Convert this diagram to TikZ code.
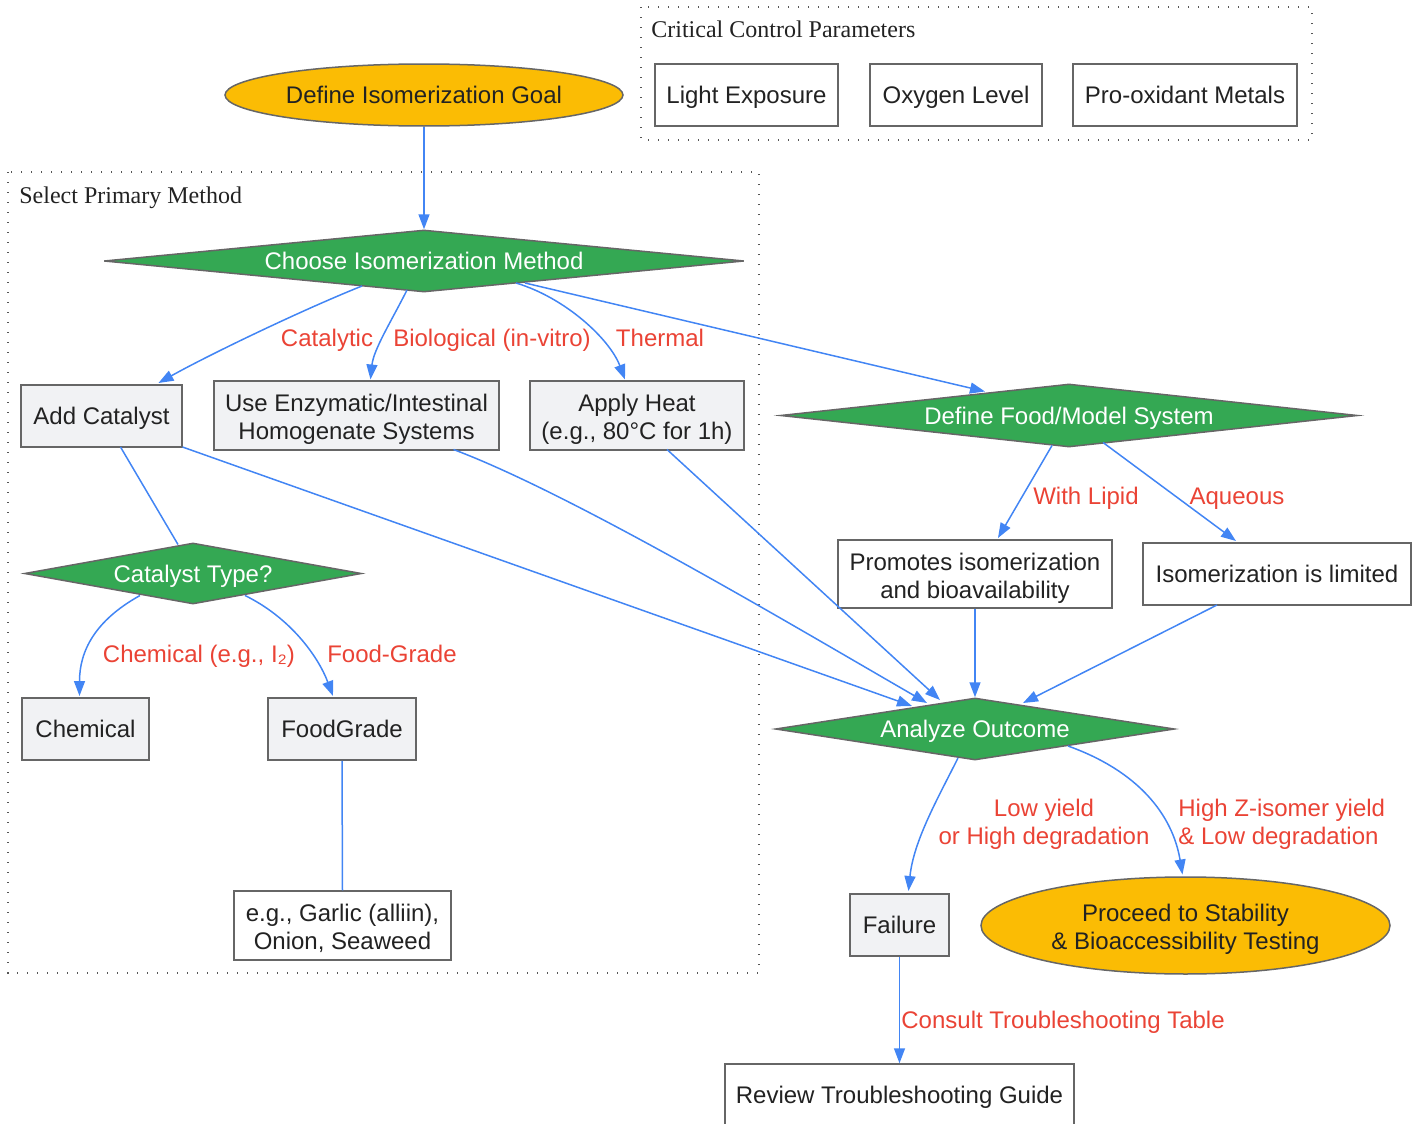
\documentclass[tikz,border=0pt]{standalone}
\usepackage{fontspec}
\setmainfont{Liberation Sans}
\newfontfamily\titlefont{Liberation Serif}
\usetikzlibrary{shapes.geometric,arrows.meta}
\definecolor{edgeblue}{RGB}{66,133,244}
\definecolor{labred}{RGB}{234,67,53}
\definecolor{dgreen}{RGB}{52,168,83}
\definecolor{gold}{RGB}{251,188,4}
\definecolor{boxgray}{RGB}{241,242,244}
\definecolor{bordergray}{RGB}{102,102,102}
\definecolor{txt}{RGB}{34,34,34}
\definecolor{clus}{RGB}{85,85,85}
\newcommand\sgl{\rule[-2.6pt]{0pt}{14pt}}
\newcommand\fst{\rule{0pt}{12.9pt}}
\newcommand\lst{\rule[-2.6pt]{0pt}{2.6pt}}
\begin{document}
\begin{tikzpicture}[x=0.5pt,y=-0.5pt,
  font=\fontsize{12}{14}\selectfont,
  base/.style={draw=bordergray,line width=0.75pt,text=txt,inner sep=0pt,align=center},
  graybox/.style={base,rectangle,fill=boxgray},
  whitebox/.style={base,rectangle,fill=white},
  goalell/.style={base,ellipse,fill=gold},
  decision/.style={base,diamond,fill=dgreen,text=white},
  edge/.style={draw=edgeblue,line width=0.75pt,-{Triangle[length=7.5pt,width=5.5pt]}},
  plainedge/.style={draw=edgeblue,line width=0.75pt},
  elabel/.style={text=labred,inner sep=0pt},
  cluster/.style={draw=clus,line width=0.7pt,dash pattern=on 0.7pt off 4.3pt},
  ctitle/.style={font=\titlefont\fontsize{12}{14}\selectfont,text=txt,inner sep=0pt,anchor=west}
]
\useasboundingbox (0,0) rectangle (1421,1124);

% clusters
\draw[cluster] (641,7) rectangle (1312,140);
\node[ctitle] (ccp) at (651,29) {\sgl Critical Control Parameters};
\draw[cluster] (8,172) rectangle (759,973);
\node[ctitle] (spm) at (19,195) {\sgl Select Primary Method};

% nodes
\node[goalell,minimum width=199pt,minimum height=31pt] (goal) at (424,95) {\sgl Define Isomerization Goal};
\node[whitebox,minimum width=91.5pt,minimum height=31pt] (light) at (746.5,95) {\sgl Light Exposure};
\node[whitebox,minimum width=86pt,minimum height=31pt] (oxy) at (956,95) {\sgl Oxygen Level};
\node[whitebox,minimum width=112pt,minimum height=31pt] (metal) at (1185,95) {\sgl Pro-oxidant Metals};

\node[decision,aspect=10,minimum width=320pt,minimum height=31pt] (choose) at (424,261) {\sgl Choose Isomerization Method};
\node[graybox,minimum width=80.5pt,minimum height=31pt] (add) at (101.5,416) {\sgl Add Catalyst};
\node[graybox,minimum width=142.5pt,minimum height=34.5pt] (use) at (356.5,415.5) {\fst Use Enzymatic/Intestinal\\Homogenate Systems\lst};
\node[graybox,minimum width=107pt,minimum height=34.5pt] (heat) at (637,415.5) {\fst Apply Heat\\(e.g., 80°C for 1h)\lst};
\node[decision,aspect=10,minimum width=288.5pt,minimum height=31.5pt] (food) at (1069,415.5) {\sgl Define Food/Model System};

\node[decision,aspect=5,minimum width=168.5pt,minimum height=30.5pt] (cat) at (193,573.5) {\sgl Catalyst Type?};
\node[graybox,minimum width=63.5pt,minimum height=31pt] (chem) at (85.5,729) {\sgl Chemical};
\node[graybox,minimum width=74pt,minimum height=31pt] (fg) at (342,729) {\sgl FoodGrade};
\node[whitebox,minimum width=108.5pt,minimum height=34.5pt] (garlic) at (342.5,925.5) {\fst e.g., Garlic (alliin),\\Onion, Seaweed\lst};

\node[whitebox,minimum width=137pt,minimum height=34pt] (prom) at (975,574) {\fst Promotes isomerization\\and bioavailability\lst};
\node[whitebox,minimum width=134pt,minimum height=31pt] (lim) at (1277,574) {\sgl Isomerization is limited};

\node[decision,aspect=7,minimum width=199.5pt,minimum height=31pt] (ana) at (975,729) {\sgl Analyze Outcome};
\node[graybox,minimum width=49.5pt,minimum height=31pt] (fail) at (899.5,925) {\sgl Failure};
\node[goalell,minimum width=204.5pt,minimum height=48.5pt] (proc) at (1185.5,925.5) {\fst Proceed to Stability\\\& Bioaccessibility Testing\lst};
\node[whitebox,minimum width=174.5pt,minimum height=31pt] (rev) at (899.5,1095) {\sgl Review Troubleshooting Guide};

% edges
\draw[edge] (goal.south) -- (choose.north);
\draw[edge] ([shift={(-62,25)}]choose.center) .. controls +(-60,24) and +(50,-28) .. ([shift={(57,-33)}]add.center);
\draw[edge] ([shift={(-17,29)}]choose.center) .. controls +(-15,30) and +(3,-30) .. ([shift={(14,-36)}]use.center);
\draw[edge] ([shift={(92,22)}]choose.center) .. controls +(50,15) and +(-15,-40) .. ([shift={(-12,-36)}]heat.center);
\draw[edge] ([shift={(101,22)}]choose.center) -- ([shift={(-84,-24)}]food.center);

\draw[plainedge] ([shift={(19,31)}]add.center) -- ([shift={(-15,-29)}]cat.center);
\draw[edge] ([shift={(81,31)}]add.center) -- ([shift={(-63,-23)}]ana.center);
\draw[edge] ([shift={(97,34)}]use.center) .. controls +(120,45) and +(-130,-75) .. ([shift={(-48,-26)}]ana.center);
\draw[edge] ([shift={(30,34)}]heat.center) -- ([shift={(-35,-29)}]ana.center);

\draw[edge] ([shift={(-17,30)}]food.center) -- ([shift={(23,-36)}]prom.center);
\draw[edge] ([shift={(34,27)}]food.center) -- ([shift={(-41,-33)}]lim.center);

\draw[edge] ([shift={(-53,22)}]cat.center) .. controls +(-45,25) and +(0,-45) .. ([shift={(-6,-33)}]chem.center);
\draw[edge] ([shift={(52,22)}]cat.center) .. controls +(45,22) and +(-15,-40) .. ([shift={(-9,-33)}]fg.center);
\draw[plainedge] (fg.south) -- (garlic.north);

\draw[edge] (prom.south) -- (ana.north);
\draw[edge] ([shift={(-60,31)}]lim.center) -- ([shift={(48,-26)}]ana.center);

\draw[edge] ([shift={(-17,29)}]ana.center) .. controls +(-20,40) and +(5,-50) .. ([shift={(9,-34)}]fail.center);
\draw[edge] ([shift={(93,17)}]ana.center) .. controls +(70,25) and +(-10,-60) .. ([shift={(-3,-51)}]proc.center);
\draw[edge] (fail.south) -- (rev.north);

% edge labels
\node[elabel] (l1) at (327,338) {\sgl Catalytic};
\node[elabel] (l2) at (492,338) {\sgl Biological (in-vitro)};
\node[elabel] (l3) at (660,338) {\sgl Thermal};
\node[elabel] (l4) at (1086,496) {\sgl With Lipid};
\node[elabel] (l5) at (1237,496) {\sgl Aqueous};
\node[elabel] (l6) at (199,654) {\sgl Chemical (e.g., I₂)};
\node[elabel] (l7) at (392,654) {\sgl Food-Grade};
\node[elabel,align=center] (l8) at (1044,820) {\fst Low yield\\or High degradation\lst};
\node[elabel,align=left,anchor=west] (l9) at (1178,820) {\fst High Z-isomer yield\\\& Low degradation\lst};
\node[elabel,anchor=west] (l10) at (901,1020) {\sgl Consult Troubleshooting Table};
\end{tikzpicture}
\end{document}
